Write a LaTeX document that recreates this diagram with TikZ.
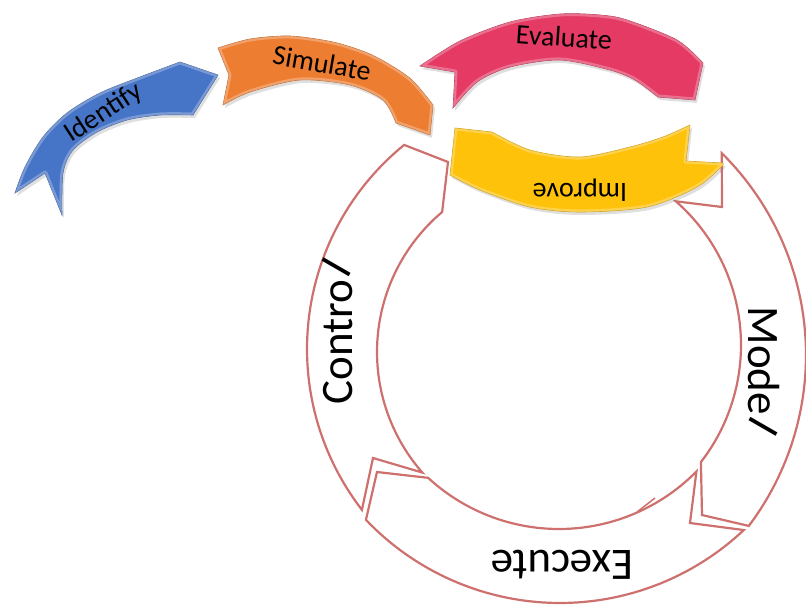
\documentclass[tikz,border=0pt]{standalone}
\usepackage{fontspec}
\setmainfont{Carlito}
\usetikzlibrary{shadows}
\definecolor{cycred}{RGB}{205,112,110}
\definecolor{ribblue}{RGB}{70,116,198}
\definecolor{riborange}{RGB}{237,125,49}
\definecolor{ribpink}{RGB}{228,58,100}
\definecolor{ribyellow}{RGB}{255,194,10}
\begin{document}
\begin{tikzpicture}[x=1pt,y=-1pt,
  band/.style={draw=cycred, line width=2.2pt, line join=miter},
  ribbon/.style={draw=#1!80!black, line width=0.6pt, fill=#1,
     drop shadow={shadow xshift=2pt,shadow yshift=-3pt,opacity=0.25}},
  bevel/.style={draw=white, line width=5pt, opacity=0.28, line join=round},
  bigtxt/.style={font=\fontsize{45}{45}\selectfont, inner sep=0pt, anchor=base},
  smalltxt/.style={font=\fontsize{28}{28}\selectfont, inner sep=0pt}]
\useasboundingbox (0,0) rectangle (806,606);
% cycle bands
\draw[band] plot[domain=142.3:230.9, samples=60] ({570+263*cos(\x)},{349+263*sin(\x)})
  -- (448,162)
  -- plot[domain=229.9:138.8, samples=60] ({560+183*cos(\x)},{352+183*sin(\x)})
  -- (373,458) -- cycle;
\draw[band] plot[domain=46.7:136.4, samples=60] ({560+268*cos(\x)},{335+268*sin(\x)})
  -- (377,472)
  -- plot[domain=132.7:44.6, samples=60] ({559+193*cos(\x)},{336+193*sin(\x)})
  -- (690,523) -- cycle;
\draw[band] plot[domain=-45.3:37.0, samples=60] ({522+284*cos(\x)},{355+284*sin(\x)})
  -- (702,515)
  -- plot[domain=37.8:-48.8, samples=60] ({550+191*cos(\x)},{345+191*sin(\x)})
  -- (722,207) -- cycle;
\draw[cycred, line width=1.5pt] (637,512) -- (655,498);
% ribbons
\def\pblue{plot[smooth] coordinates {(15,193) (25,167) (43,137) (67,113) (100,93) (140,77) (180,62)}
  -- (218,75)
  -- plot[smooth] coordinates {(193,115) (160,115) (127,120) (97,132) (73,150) (63,173) (62,215)}
  -- (45,173) -- cycle}
\def\porange{plot[smooth] coordinates {(218,48) (250,39) (290,36) (333,42) (365,52) (387,63) (412,80) (433,105)}
  -- (430,135)
  -- plot[smooth] coordinates {(396,123) (383,100) (350,85) (300,80) (250,92) (223,105)}
  -- (229,75) -- cycle}
\def\ppink{plot[smooth] coordinates {(420,66) (460,41) (510,22) (560,14) (600,15) (627,20) (677,40) (703,63)}
  -- (695,100)
  -- plot[smooth] coordinates {(658,97) (635,80) (610,70) (560,60) (510,67) (477,82) (453,108)}
  -- (455,72) -- cycle}
\def\pyellow{(455,128) -- plot[smooth] coordinates {(492,132) (530,150) (580,157) (630,147) (663,137) (690,125)}
  -- (686,161) -- (723,163)
  -- plot[smooth] coordinates {(723,165) (697,187) (647,207) (580,212) (530,207) (480,190) (450,175)}
  -- cycle}
\path[ribbon=ribblue] \pblue;
\begin{scope}\clip \pblue; \path[bevel] \pblue; \end{scope}
\path[ribbon=riborange] \porange;
\begin{scope}\clip \porange; \path[bevel] \porange; \end{scope}
\path[ribbon=ribpink] \ppink;
\begin{scope}\clip \ppink; \path[bevel] \ppink; \end{scope}
\path[ribbon=ribyellow] \pyellow;
\begin{scope}\clip \pyellow; \path[bevel] \pyellow; \end{scope}
% texts
\node[smalltxt, rotate=33] (identify) at (104,113) {Identify};
\node[smalltxt, rotate=-10] (simulate) at (322,63) {Simulate};
\node[smalltxt, rotate=-4] (evaluate) at (564,37) {Evaluate};
\node[smalltxt, rotate=180] (improve) at (580,190) {Improve};
\node[bigtxt, rotate=90] (control) at (352,330) {Contro\rotatebox[origin=c]{-30}{l}};
\node[bigtxt, rotate=-90] (model) at (748,373) {Mode\rotatebox[origin=c]{-30}{l}};
\node[bigtxt, rotate=180] (execute) at (562,550) {Execute};
\end{tikzpicture}
\end{document}
